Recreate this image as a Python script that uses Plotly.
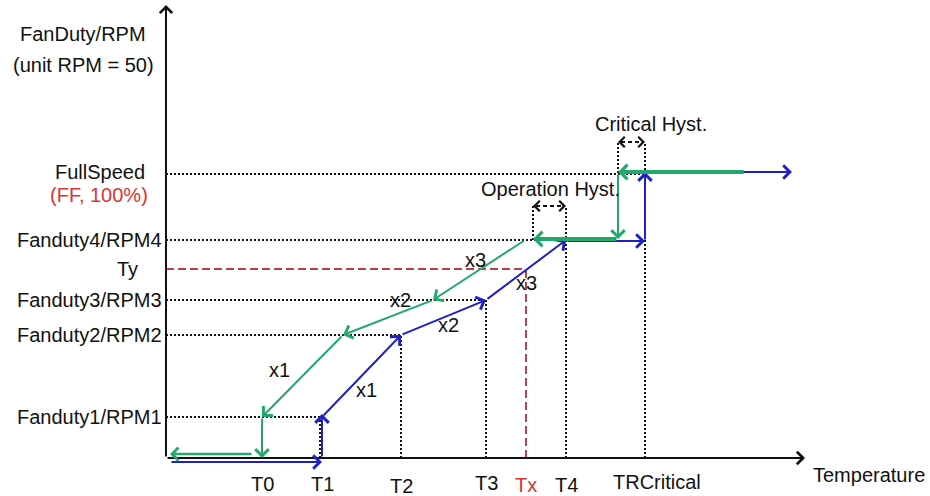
import plotly.graph_objects as go

# ---- temperature breakpoints (horizontal axis units) ----
temp_labels = ["T0", "T1", "T2", "T3", "Tx", "T4", "TRCritical"]
temp_values = [96, 156, 235, 320, 360, 400, 479]
T0, T1, T2, T3, TX, T4, TRC = temp_values
op_hyst_low = 367      # T4 minus operation hysteresis
crit_hyst_low = 452    # TRCritical minus critical hysteresis

# ---- fan duty levels (vertical axis units) ----
level_labels = ["Fanduty1/RPM1", "Fanduty2/RPM2", "Fanduty3/RPM3", "Ty", "Fanduty4/RPM4", "FullSpeed"]
level_values = [41, 123, 158, 189, 218, 285]
RPM1, RPM2, RPM3, TY, RPM4, FULL = level_values

# rising temperature ramp (blue) and falling ramp (green)
rise_ramp_temps = [T1, T2, T3, T4]
fall_ramp_temps = [T0, 177, 267, 359]
ramp_levels = [RPM1, RPM2, RPM3, RPM4]
ramp_names = ["x1", "x2", "x3"]

BLUE = "#1f1fc6"
GREEN = "#22a86c"
DARKRED = "#b5434b"
RED = "#dd3333"
INK = "#111111"
FONT = "Liberation Sans, Arial, sans-serif"
FS = 20

fig = go.Figure()
fig.add_trace(go.Scatter(x=[0], y=[0], mode="markers", marker=dict(opacity=0), hoverinfo="skip"))

annotations = []
shapes = []


def arrow(x0, y0, x1, y1, color, width=2, size=1.3):
    annotations.append(dict(
        x=x1, y=y1, ax=x0, ay=y0, xref="x", yref="y", axref="x", ayref="y",
        text="", showarrow=True, arrowhead=4, arrowsize=size, arrowwidth=width,
        arrowcolor=color, standoff=0, startstandoff=0))


def guide(x0, y0, x1, y1, color=INK, dash="2px,2px", width=2):
    shapes.append(dict(type="line", xref="x", yref="y", x0=x0, y0=y0, x1=x1, y1=y1,
                       line=dict(color=color, width=width, dash=dash), layer="below"))


def label(x, y, text, color=INK, anchor="center", size=FS):
    annotations.append(dict(x=x, y=y, xref="x", yref="y", text=text, showarrow=False,
                            xanchor=anchor, yanchor="middle",
                            font=dict(family=FONT, size=size, color=color)))


# dotted guides from the duty axis to each breakpoint
guide(0, RPM1, T1, RPM1)
guide(0, RPM2, T2, RPM2)
guide(0, RPM3, T3, RPM3)
guide(0, RPM4, T4, RPM4)
guide(0, FULL - 1, TRC + 2, FULL - 1)
guide(T1 - 2, 0, T1 - 2, RPM1)
guide(T2, 0, T2, RPM2)
guide(T3, 0, T3, RPM3)
guide(T4, 0, T4, 252)
guide(op_hyst_low, RPM4, op_hyst_low, 252)
guide(TRC, 0, TRC, 316)
guide(crit_hyst_low, FULL, crit_hyst_low, 316)

# Tx / Ty operating point
guide(0, TY, TX, TY, color=DARKRED, dash="8px,4px")
guide(TX, 0, TX, TY, color=DARKRED, dash="8px,4px")

# hysteresis width markers
for lo, hi, yy in [(op_hyst_low, T4, 252), (crit_hyst_low, TRC, 316)]:
    guide(lo + 3, yy, hi - 3, yy, dash="4px,3px")
    arrow(lo + 5, yy, lo, yy, INK, width=2, size=1.0)
    arrow(hi - 5, yy, hi, yy, INK, width=2, size=1.0)

# axes
arrow(0, 0, 0, 453, INK, width=2, size=1.2)
arrow(0, 0, 639, 0, INK, width=2, size=1.2)

# rising path (blue)
arrow(4, -4, T1, -4, BLUE)
arrow(T1, 0, T1, RPM1 + 3, BLUE)
for i in range(3):
    arrow(rise_ramp_temps[i], ramp_levels[i], rise_ramp_temps[i + 1], ramp_levels[i + 1], BLUE)
arrow(T4, RPM4 - 1, TRC, RPM4 - 1, BLUE)
arrow(TRC, RPM4 - 1, TRC, FULL + 1, BLUE)
arrow(TRC, FULL + 1, 626, FULL + 1, BLUE)

# falling path (green)
arrow(579, FULL + 1, crit_hyst_low, FULL + 1, GREEN, width=4, size=0.7)
arrow(crit_hyst_low, FULL, crit_hyst_low, RPM4 + 1, GREEN)
arrow(crit_hyst_low, RPM4 + 1, op_hyst_low, RPM4 + 1, GREEN, width=4, size=0.7)
for i in range(3, 0, -1):
    arrow(fall_ramp_temps[i], ramp_levels[i], fall_ramp_temps[i - 1], ramp_levels[i - 1], GREEN)
arrow(T0, RPM1, T0, 0, GREEN)
arrow(87, 4, 4, 4, GREEN, width=2.5, size=1.0)

# slope labels
for (xx, yy), name in zip([(200, 68), (282, 133), (360, 175)], ramp_names):
    label(xx, yy, name)
for (xx, yy), name in zip([(113, 88), (234, 158), (309, 198)], ramp_names):
    label(xx, yy, name)

# duty axis labels
label(-83, 424, "FanDuty/RPM")
label(-83, 393, "(unit RPM = 50)")
label(-19, FULL + 1, "FullSpeed", anchor="right")
label(-16, 263, "(FF, 100%)", color=RED, anchor="right")
for name, val in zip(level_labels, level_values):
    if name == "FullSpeed":
        continue
    label(-2 if name != "Ty" else -26, val, name, anchor="right")

# temperature axis labels
temp_label_y = [-26, -26, -28, -25, -27, -27, -24]
for name, val, yy in zip(temp_labels, temp_values, temp_label_y):
    xx = val + 12 if name == "TRCritical" else val
    label(xx, yy, name, color=RED if name == "Tx" else INK)
label(703, -17, "Temperature")
label(485, 334, "Critical Hyst.")
label(384, 269, "Operation Hyst.")

fig.update_layout(
    width=930, height=496,
    margin=dict(l=0, r=0, t=0, b=0),
    paper_bgcolor="white", plot_bgcolor="white",
    showlegend=False,
    xaxis=dict(range=[-166, 764], visible=False, fixedrange=True),
    yaxis=dict(range=[-38, 458], visible=False, fixedrange=True),
    annotations=annotations,
    shapes=shapes,
)

fig.write_html("out.html")
